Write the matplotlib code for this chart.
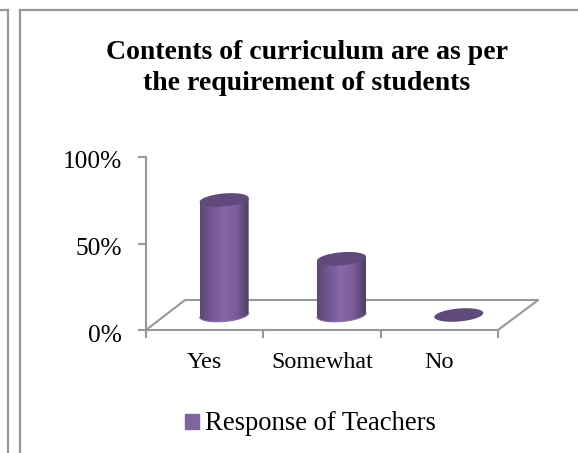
import numpy as np
import matplotlib.pyplot as plt
from matplotlib.colors import LinearSegmentedColormap
from matplotlib.lines import Line2D
from matplotlib.patches import Patch, Polygon
from matplotlib.transforms import ScaledTranslation

### DATA ###
categories = ['Yes', 'Somewhat', 'No']
values = [66.5, 32.5, 0]
y_ticks = [0, 50, 100]
y_tick_labels = ['0%', '50%', '100%']
title = 'Contents of curriculum are as per\nthe requirement of students'
series_name = 'Response of Teachers'

W, H = 578, 453
GRAY = '#989898'
PURPLE = '#8064a2'
TOP = '#604a7b'

plt.rcParams['font.family'] = ['Liberation Serif', 'DejaVu Serif']

fig = plt.figure(figsize=(W / 100, H / 100), dpi=100, facecolor='white')

## Axes placed on the plot floor front edge
ax = fig.add_axes([146 / W, 1 - 330 / H, 352 / W, 173 / H])
ax.set_facecolor('none')

## Page frames around the chart
for xs, ys in [([20, 20], [453, 10]), ([20, 578], [10, 10]), ([8, 8], [453, 10]), ([0, 8], [10, 10])]:
    fig.add_artist(Line2D([x / W for x in xs], [1 - y / H for y in ys], color=GRAY, lw=1.6))

## Oblique floor, offsets in data units
depth_x = 39 / 352 * 3
depth_y = 30 / 173 * 100
floor_x = [0, depth_x, 3 + depth_x + 0.01, 3]
floor_y = [0, depth_y, depth_y, 0]
ax.plot(floor_x, floor_y, color=GRAY, lw=1.5, clip_on=False, zorder=1)

## Cylinders
rx = 24.5 / 352 * 3
ry = 6.5 / 173 * 100
tilt = 2 / 173 * 100
t = np.linspace(0, 2 * np.pi, 120)
shade = LinearSegmentedColormap.from_list('cyl', ['#5c4975', '#745896', '#8868aa', '#7a5c9a', '#503f69'])
gradient = np.linspace(0, 1, 64).reshape(1, -1)

for i, v in enumerate(values):
    cx = i + 0.5 + depth_x / 2
    cy = depth_y / 2
    ex = cx + rx * np.cos(t)
    ey = ry * np.sin(t) + tilt * np.cos(t)
    if v > 0:
        lower = (t >= np.pi)
        body_x = np.concatenate([[cx - rx], ex[lower], [cx + rx]])
        body_y = np.concatenate([[cy + v - tilt], cy + ey[lower], [cy + v + tilt]])
        body = Polygon(np.column_stack([body_x, body_y]), closed=True, transform=ax.transData,
                       facecolor='none', edgecolor='none')
        ax.add_patch(body)
        img = ax.imshow(gradient, cmap=shade, aspect='auto', zorder=2, interpolation='bilinear',
                        extent=[cx - rx, cx + rx, cy - ry - tilt, cy + v + tilt])
        img.set_clip_path(body)
        ax.plot(ex[lower], cy + ey[lower], color='#8a6cae', lw=0.8, zorder=3, clip_on=False)
    ax.fill(ex, cy + v + ey, color=TOP, lw=0, zorder=4, clip_on=False)

## Axes
ax.set_xlim(0, 3)
ax.set_ylim(0, 100)
for side in ['top', 'right']:
    ax.spines[side].set_visible(False)
for side in ['left', 'bottom']:
    ax.spines[side].set_color(GRAY)
    ax.spines[side].set_linewidth(1.5)
ax.set_yticks(y_ticks, y_tick_labels, fontsize=18.3)
ax.set_xticks([0, 1, 2, 3], ['', '', '', ''])
ax.set_xticks([0.5, 1.5, 2.5], categories, minor=True, fontsize=17.4)
ax.tick_params(axis='both', which='major', length=5.5, width=1.5, color=GRAY, direction='out')
ax.tick_params(axis='x', which='minor', length=0, pad=15.5)
ax.tick_params(axis='y', pad=12)

## y labels sit a little under their ticks
shift = ScaledTranslation(0, -3 / 100, fig.dpi_scale_trans)
for label in ax.get_yticklabels():
    label.set_transform(label.get_transform() + shift)

## Title and legend
fig.text(306.5 / W, 1 - 68 / H, title, fontsize=20, fontweight='bold', ha='center', va='center', linespacing=1.34)
fig.legend(handles=[Patch(color=PURPLE, label=series_name)], loc='center', bbox_to_anchor=(310.5 / W, 1 - 424 / H),
           frameon=False, fontsize=19.2, handlelength=0.52, handleheight=0.49, handletextpad=0.26)

fig.savefig('out.png', dpi=100)
